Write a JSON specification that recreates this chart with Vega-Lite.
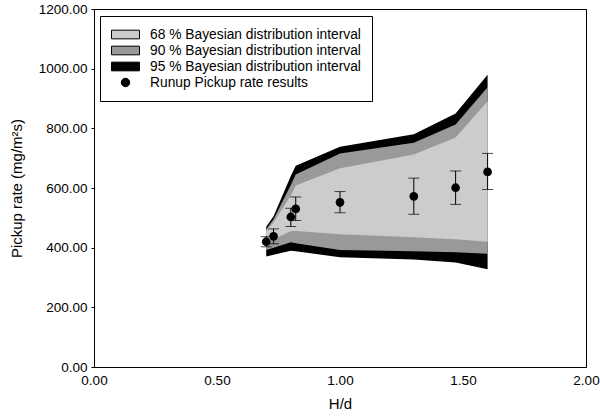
{
  "$schema": "https://vega.github.io/schema/vega-lite/v6.json",
  "width": 492,
  "height": 358,
  "autosize": "none",
  "padding": {"left": 94, "top": 9, "right": 14, "bottom": 53},
  "background": "white",
  "config": {
    "font": "Liberation Sans",
    "view": {"stroke": "black", "strokeWidth": 1},
    "axis": {
      "grid": false,
      "domainColor": "black",
      "tickColor": "black",
      "labelColor": "black",
      "titleColor": "black",
      "labelFontSize": 13.5,
      "titleFontSize": 15,
      "titleFontWeight": "normal",
      "labelFlush": false
    }
  },
  "datasets": {
    "bands": [
      {"H": 0.70, "level": 95, "band": "95 % Bayesian distribution interval", "lo": 370, "hi": 470},
      {"H": 0.73, "level": 95, "band": "95 % Bayesian distribution interval", "lo": 376, "hi": 505},
      {"H": 0.80, "level": 95, "band": "95 % Bayesian distribution interval", "lo": 390, "hi": 640},
      {"H": 0.82, "level": 95, "band": "95 % Bayesian distribution interval", "lo": 388, "hi": 675},
      {"H": 1.00, "level": 95, "band": "95 % Bayesian distribution interval", "lo": 368, "hi": 738},
      {"H": 1.30, "level": 95, "band": "95 % Bayesian distribution interval", "lo": 360, "hi": 780},
      {"H": 1.47, "level": 95, "band": "95 % Bayesian distribution interval", "lo": 350, "hi": 850},
      {"H": 1.60, "level": 95, "band": "95 % Bayesian distribution interval", "lo": 328, "hi": 980},
      {"H": 0.70, "level": 90, "band": "90 % Bayesian distribution interval", "lo": 392, "hi": 462},
      {"H": 0.73, "level": 90, "band": "90 % Bayesian distribution interval", "lo": 400, "hi": 495},
      {"H": 0.80, "level": 90, "band": "90 % Bayesian distribution interval", "lo": 418, "hi": 610},
      {"H": 0.82, "level": 90, "band": "90 % Bayesian distribution interval", "lo": 415, "hi": 645},
      {"H": 1.00, "level": 90, "band": "90 % Bayesian distribution interval", "lo": 392, "hi": 716},
      {"H": 1.30, "level": 90, "band": "90 % Bayesian distribution interval", "lo": 388, "hi": 752},
      {"H": 1.47, "level": 90, "band": "90 % Bayesian distribution interval", "lo": 385, "hi": 813},
      {"H": 1.60, "level": 90, "band": "90 % Bayesian distribution interval", "lo": 380, "hi": 938},
      {"H": 0.70, "level": 68, "band": "68 % Bayesian distribution interval", "lo": 418, "hi": 455},
      {"H": 0.73, "level": 68, "band": "68 % Bayesian distribution interval", "lo": 428, "hi": 485},
      {"H": 0.80, "level": 68, "band": "68 % Bayesian distribution interval", "lo": 455, "hi": 575},
      {"H": 0.82, "level": 68, "band": "68 % Bayesian distribution interval", "lo": 456, "hi": 608},
      {"H": 1.00, "level": 68, "band": "68 % Bayesian distribution interval", "lo": 445, "hi": 666},
      {"H": 1.30, "level": 68, "band": "68 % Bayesian distribution interval", "lo": 435, "hi": 712},
      {"H": 1.47, "level": 68, "band": "68 % Bayesian distribution interval", "lo": 428, "hi": 769},
      {"H": 1.60, "level": 68, "band": "68 % Bayesian distribution interval", "lo": 420, "hi": 891}
    ],
    "points": [
      {"H": 0.70, "rate": 420, "lo": 403, "hi": 437},
      {"H": 0.73, "rate": 438, "lo": 413, "hi": 463},
      {"H": 0.80, "rate": 503, "lo": 471, "hi": 532},
      {"H": 0.82, "rate": 530, "lo": 491, "hi": 570},
      {"H": 1.00, "rate": 552, "lo": 517, "hi": 588},
      {"H": 1.30, "rate": 572, "lo": 512, "hi": 633},
      {"H": 1.47, "rate": 601, "lo": 545, "hi": 657},
      {"H": 1.60, "rate": 654, "lo": 595, "hi": 716}
    ]
  },
  "layer": [
    {
      "data": {"name": "bands"},
      "transform": [{"filter": {"field": "level", "equal": 95}}],
      "mark": {"type": "area", "interpolate": "linear", "opacity": 1},
      "encoding": {
        "x": {
          "field": "H", "type": "quantitative", "title": "H/d",
          "scale": {"domain": [0, 2], "nice": false},
          "axis": {"values": [0, 0.5, 1, 1.5, 2], "format": ".2f", "ticks": false, "labelPadding": 6, "titlePadding": 10}
        },
        "y": {
          "field": "lo", "type": "quantitative", "title": "Pickup rate (mg/m²s)",
          "scale": {"domain": [0, 1200], "nice": false},
          "axis": {"values": [0, 200, 400, 600, 800, 1000, 1200], "format": ".2f", "tickSize": 3, "labelPadding": 4, "titlePadding": 14}
        },
        "y2": {"field": "hi"},
        "color": {
          "field": "band", "type": "nominal",
          "scale": {
            "domain": ["68 % Bayesian distribution interval", "90 % Bayesian distribution interval", "95 % Bayesian distribution interval", "Runup Pickup rate results"],
            "range": ["#cccccc", "#999999", "#000000", "#000000"]
          },
          "legend": {
            "title": null,
            "orient": "none",
            "legendX": 6,
            "legendY": 7,
            "strokeColor": "black",
            "fillColor": "white",
            "padding": 11,
            "labelFontSize": 13.8,
            "labelColor": "black",
            "labelFont": "Liberation Sans",
            "labelLimit": 400,
            "symbolSize": 196,
            "symbolOpacity": 1,
            "labelOffset": 24,
            "rowPadding": 1,
            "encode": {
              "symbols": {
                "update": {
                  "shape": {"signal": "datum.value === 'Runup Pickup rate results' ? 'M0.4,0A0.6,0.6 0 1,0 1.6,0A0.6,0.6 0 1,0 0.4,0Z' : 'M-1,-0.62H3V0.62H-1Z'"},
                  "size": {"value": 196},
                  "stroke": {"value": "black"},
                  "strokeWidth": {"value": 1},
                  "opacity": {"value": 1}
                }
              }
            }
          }
        }
      }
    },
    {
      "data": {"name": "bands"},
      "transform": [{"filter": {"field": "level", "equal": 90}}],
      "mark": {"type": "area", "interpolate": "linear", "opacity": 1},
      "encoding": {
        "x": {"field": "H", "type": "quantitative", "title": "H/d"},
        "y": {"field": "lo", "type": "quantitative", "title": "Pickup rate (mg/m²s)"},
        "y2": {"field": "hi"},
        "color": {"field": "band", "type": "nominal"}
      }
    },
    {
      "data": {"name": "bands"},
      "transform": [{"filter": {"field": "level", "equal": 68}}],
      "mark": {"type": "area", "interpolate": "linear", "opacity": 1},
      "encoding": {
        "x": {"field": "H", "type": "quantitative", "title": "H/d"},
        "y": {"field": "lo", "type": "quantitative", "title": "Pickup rate (mg/m²s)"},
        "y2": {"field": "hi"},
        "color": {"field": "band", "type": "nominal"}
      }
    },
    {
      "data": {"name": "points"},
      "mark": {"type": "errorbar", "ticks": {"size": 11, "color": "black", "thickness": 1}, "rule": {"color": "black", "strokeWidth": 1}},
      "encoding": {
        "x": {"field": "H", "type": "quantitative", "title": "H/d"},
        "y": {"field": "lo", "type": "quantitative", "title": "Pickup rate (mg/m²s)"},
        "y2": {"field": "hi"}
      }
    },
    {
      "data": {"name": "points"},
      "mark": {"type": "circle", "size": 75, "opacity": 1},
      "encoding": {
        "x": {"field": "H", "type": "quantitative", "title": "H/d"},
        "y": {"field": "rate", "type": "quantitative", "title": "Pickup rate (mg/m²s)"},
        "color": {"datum": "Runup Pickup rate results"}
      }
    }
  ]
}
